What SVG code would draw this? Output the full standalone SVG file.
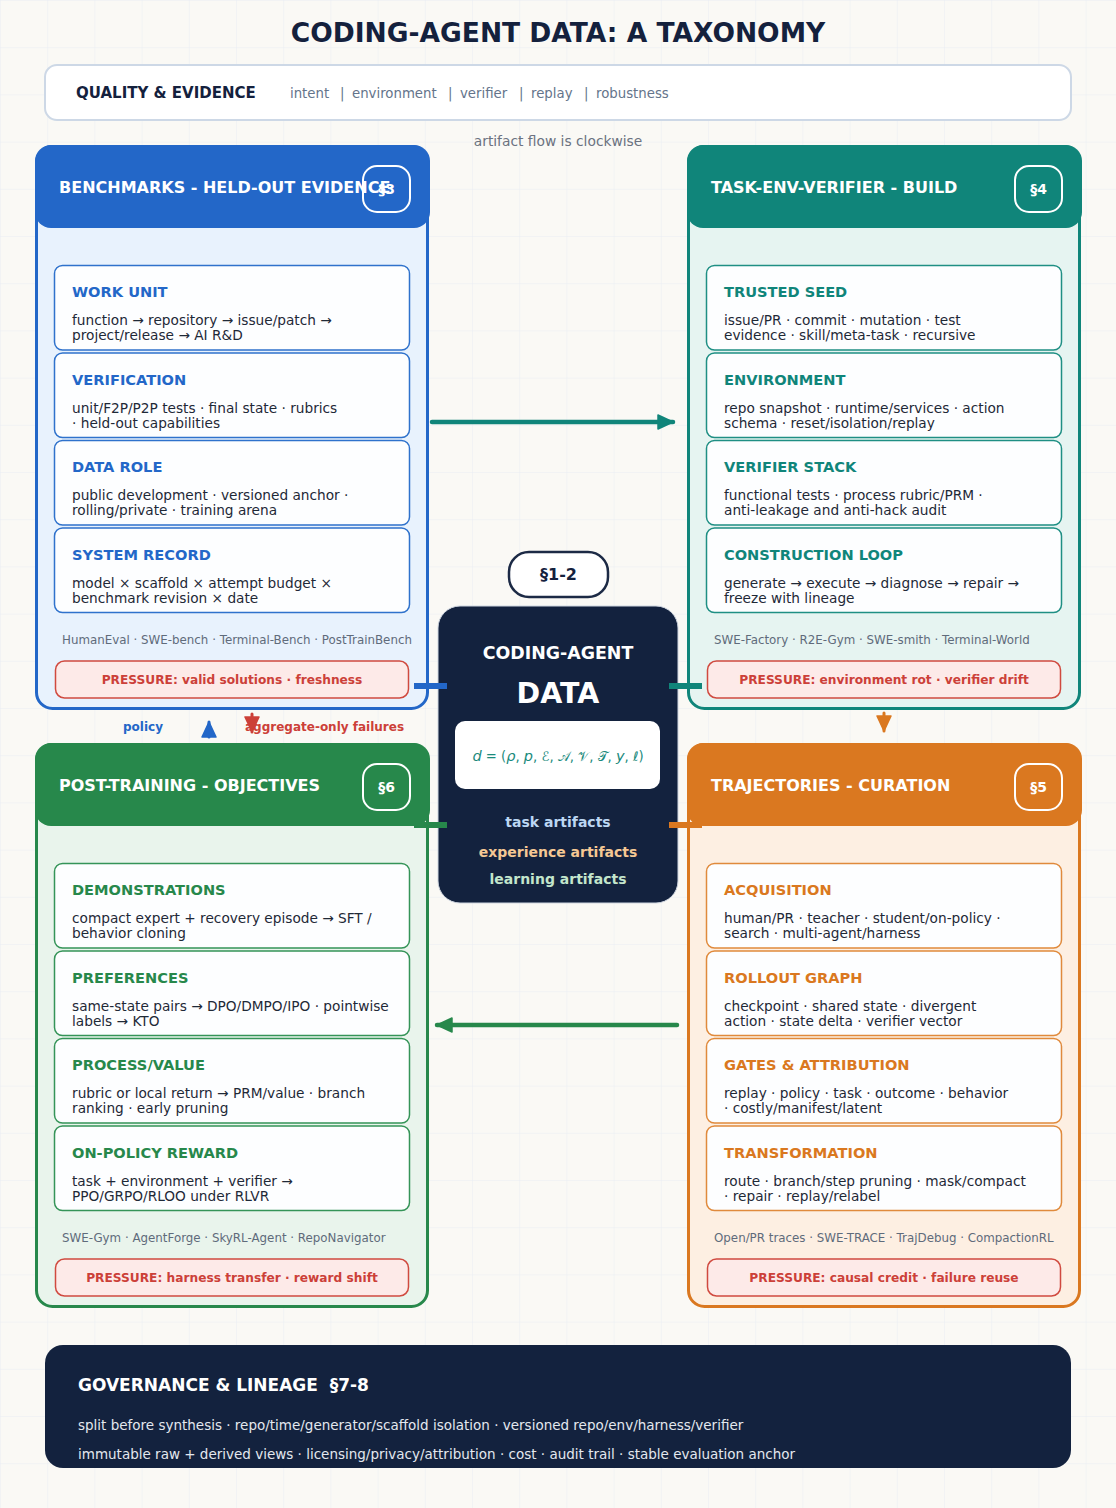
<svg xmlns="http://www.w3.org/2000/svg" width="1116" height="1508" viewBox="0 0 1116 1508">
<defs>
<pattern id="grid" width="47.2" height="47.2" patternUnits="userSpaceOnUse">
<path d="M47.2 0 L0 0 0 47.2" fill="none" stroke="#e9edf3" stroke-width="1"/>
</pattern>
<marker id="mTeal" markerUnits="userSpaceOnUse" markerWidth="20" markerHeight="20" viewBox="0 0 20 20" refX="16" refY="8" orient="auto"><path d="M1 1 L16 8 L1 15 Z" fill="#10857a" stroke="#10857a" stroke-width="1.5" stroke-linejoin="round"/></marker>
<marker id="mGreen" markerUnits="userSpaceOnUse" markerWidth="20" markerHeight="20" viewBox="0 0 20 20" refX="16" refY="8" orient="auto"><path d="M1 1 L16 8 L1 15 Z" fill="#27884b" stroke="#27884b" stroke-width="1.5" stroke-linejoin="round"/></marker>
<marker id="mOrange" markerUnits="userSpaceOnUse" markerWidth="20" markerHeight="20" viewBox="0 0 20 20" refX="16" refY="8" orient="auto"><path d="M1 1 L16 8 L1 15 Z" fill="#da7820" stroke="#da7820" stroke-width="1.5" stroke-linejoin="round"/></marker>
<marker id="mBlue" markerUnits="userSpaceOnUse" markerWidth="20" markerHeight="20" viewBox="0 0 20 20" refX="16" refY="8" orient="auto"><path d="M1 1 L16 8 L1 15 Z" fill="#2367c8" stroke="#2367c8" stroke-width="1.5" stroke-linejoin="round"/></marker>
<marker id="mRed" markerUnits="userSpaceOnUse" markerWidth="20" markerHeight="20" viewBox="0 0 20 20" refX="16" refY="8" orient="auto"><path d="M1 1 L16 8 L1 15 Z" fill="#cc4038" stroke="#cc4038" stroke-width="1.5" stroke-linejoin="round"/></marker>
</defs>
<style>
text{font-family:"DejaVu Sans","Liberation Sans",sans-serif}
.b{font-weight:bold}
.title{font-size:26.5px;font-weight:bold;fill:#14213d}
.hdr{font-size:16px;font-weight:bold;fill:#ffffff}
.badge{fill:none;stroke:#ffffff;stroke-width:2}
.badgeT{font-size:14px;font-weight:bold;fill:#ffffff;text-anchor:middle}
.card{fill:#fdfeff;stroke-width:1.5}
.ct{font-size:14.6px;font-weight:bold}
.cb{font-size:13.7px;fill:#1f2937}
.refs{font-size:11.85px;fill:#5f6b7b}
.pbox{fill:#fdeae8;stroke:#d04a3f;stroke-width:1.5}
.ptxt{font-size:12.2px;font-weight:bold;fill:#cc4038;text-anchor:middle}
.conn{fill:none;stroke-linecap:round}
.stub{fill:none;stroke-width:6}
</style>
<rect x="0" y="0" width="1116" height="1508" fill="#faf9f5"/>
<rect x="0" y="0" width="1116" height="1508" fill="url(#grid)"/>

<text class="title" x="558" y="42" text-anchor="middle">CODING-AGENT DATA: A TAXONOMY</text>

<g id="quality">
<rect x="45" y="65" width="1026" height="55" rx="12" fill="#ffffff" stroke="#cdd8e6" stroke-width="2"/>
<text x="76" y="98" font-size="15" class="b" fill="#14213d">QUALITY &amp; EVIDENCE</text>
<text y="97.5" font-size="13.3" fill="#64748b"><tspan x="290">intent</tspan><tspan x="340">|</tspan><tspan x="352">environment</tspan><tspan x="448">|</tspan><tspan x="460">verifier</tspan><tspan x="519">|</tspan><tspan x="531">replay</tspan><tspan x="584">|</tspan><tspan x="596">robustness</tspan></text>
</g>
<text x="558" y="146" font-size="13.8" fill="#6b7280" text-anchor="middle">artifact flow is clockwise</text>

<!-- Benchmarks panel -->
<g id="benchmarks">
<rect x="36.5" y="146.5" width="391" height="562" rx="16" fill="#e8f2fd" stroke="#2367c8" stroke-width="3"/>
<rect x="35" y="145" width="395" height="83" rx="16" fill="#2367c8"/>
<text class="hdr" x="59" y="192.5">BENCHMARKS - HELD-OUT EVIDENCE</text>
<rect class="badge" x="363" y="166" width="47" height="46" rx="14"/>
<text class="badgeT" x="386.5" y="194">§3</text>
<rect class="card" x="54.5" y="265.5" width="355" height="84.5" rx="8" stroke="#2f72cc"/>
<text class="ct" x="72" y="297" fill="#2367c8">WORK UNIT</text>
<text class="cb" x="72" y="325">function → repository → issue/patch →</text>
<text class="cb" x="72" y="340">project/release → AI R&amp;D</text>
<rect class="card" x="54.5" y="353" width="355" height="84.5" rx="8" stroke="#2f72cc"/>
<text class="ct" x="72" y="384.5" fill="#2367c8">VERIFICATION</text>
<text class="cb" x="72" y="412.5">unit/F2P/P2P tests · final state · rubrics</text>
<text class="cb" x="72" y="427.5">· held-out capabilities</text>
<rect class="card" x="54.5" y="440.5" width="355" height="84.5" rx="8" stroke="#2f72cc"/>
<text class="ct" x="72" y="472" fill="#2367c8">DATA ROLE</text>
<text class="cb" x="72" y="500">public development · versioned anchor ·</text>
<text class="cb" x="72" y="515">rolling/private · training arena</text>
<rect class="card" x="54.5" y="528" width="355" height="84.5" rx="8" stroke="#2f72cc"/>
<text class="ct" x="72" y="559.5" fill="#2367c8">SYSTEM RECORD</text>
<text class="cb" x="72" y="587.5">model × scaffold × attempt budget ×</text>
<text class="cb" x="72" y="602.5">benchmark revision × date</text>
<text class="refs" x="62" y="644">HumanEval · SWE-bench · Terminal-Bench · PostTrainBench</text>
<rect class="pbox" x="55.5" y="661" width="353" height="37" rx="9"/>
<text class="ptxt" x="232" y="683.5">PRESSURE: valid solutions · freshness</text>
</g>

<!-- Build panel -->
<g id="build">
<rect x="688.5" y="146.5" width="391" height="562" rx="16" fill="#e6f4f1" stroke="#10857a" stroke-width="3"/>
<rect x="687" y="145" width="395" height="83" rx="16" fill="#10857a"/>
<text class="hdr" x="711" y="192.5">TASK-ENV-VERIFIER - BUILD</text>
<rect class="badge" x="1015" y="166" width="47" height="46" rx="14"/>
<text class="badgeT" x="1038.5" y="194">§4</text>
<rect class="card" x="706.5" y="265.5" width="355" height="84.5" rx="8" stroke="#1f8f84"/>
<text class="ct" x="724" y="297" fill="#10857a">TRUSTED SEED</text>
<text class="cb" x="724" y="325">issue/PR · commit · mutation · test</text>
<text class="cb" x="724" y="340">evidence · skill/meta-task · recursive</text>
<rect class="card" x="706.5" y="353" width="355" height="84.5" rx="8" stroke="#1f8f84"/>
<text class="ct" x="724" y="384.5" fill="#10857a">ENVIRONMENT</text>
<text class="cb" x="724" y="412.5">repo snapshot · runtime/services · action</text>
<text class="cb" x="724" y="427.5">schema · reset/isolation/replay</text>
<rect class="card" x="706.5" y="440.5" width="355" height="84.5" rx="8" stroke="#1f8f84"/>
<text class="ct" x="724" y="472" fill="#10857a">VERIFIER STACK</text>
<text class="cb" x="724" y="500">functional tests · process rubric/PRM ·</text>
<text class="cb" x="724" y="515">anti-leakage and anti-hack audit</text>
<rect class="card" x="706.5" y="528" width="355" height="84.5" rx="8" stroke="#1f8f84"/>
<text class="ct" x="724" y="559.5" fill="#10857a">CONSTRUCTION LOOP</text>
<text class="cb" x="724" y="587.5">generate → execute → diagnose → repair →</text>
<text class="cb" x="724" y="602.5">freeze with lineage</text>
<text class="refs" x="714" y="644">SWE-Factory · R2E-Gym · SWE-smith · Terminal-World</text>
<rect class="pbox" x="707.5" y="661" width="353" height="37" rx="9"/>
<text class="ptxt" x="884" y="683.5">PRESSURE: environment rot · verifier drift</text>
</g>

<!-- Post-training panel -->
<g id="posttraining">
<rect x="36.5" y="744.5" width="391" height="562" rx="16" fill="#e9f4ec" stroke="#27884b" stroke-width="3"/>
<rect x="35" y="743" width="395" height="83" rx="16" fill="#27884b"/>
<text class="hdr" x="59" y="790.5">POST-TRAINING - OBJECTIVES</text>
<rect class="badge" x="363" y="764" width="47" height="46" rx="14"/>
<text class="badgeT" x="386.5" y="792">§6</text>
<rect class="card" x="54.5" y="863.5" width="355" height="84.5" rx="8" stroke="#359458"/>
<text class="ct" x="72" y="895" fill="#27884b">DEMONSTRATIONS</text>
<text class="cb" x="72" y="923">compact expert + recovery episode → SFT /</text>
<text class="cb" x="72" y="938">behavior cloning</text>
<rect class="card" x="54.5" y="951" width="355" height="84.5" rx="8" stroke="#359458"/>
<text class="ct" x="72" y="982.5" fill="#27884b">PREFERENCES</text>
<text class="cb" x="72" y="1010.5">same-state pairs → DPO/DMPO/IPO · pointwise</text>
<text class="cb" x="72" y="1025.5">labels → KTO</text>
<rect class="card" x="54.5" y="1038.5" width="355" height="84.5" rx="8" stroke="#359458"/>
<text class="ct" x="72" y="1070" fill="#27884b">PROCESS/VALUE</text>
<text class="cb" x="72" y="1098">rubric or local return → PRM/value · branch</text>
<text class="cb" x="72" y="1113">ranking · early pruning</text>
<rect class="card" x="54.5" y="1126" width="355" height="84.5" rx="8" stroke="#359458"/>
<text class="ct" x="72" y="1157.5" fill="#27884b">ON-POLICY REWARD</text>
<text class="cb" x="72" y="1185.5">task + environment + verifier →</text>
<text class="cb" x="72" y="1200.5">PPO/GRPO/RLOO under RLVR</text>
<text class="refs" x="62" y="1242">SWE-Gym · AgentForge · SkyRL-Agent · RepoNavigator</text>
<rect class="pbox" x="55.5" y="1259" width="353" height="37" rx="9"/>
<text class="ptxt" x="232" y="1281.5">PRESSURE: harness transfer · reward shift</text>
</g>

<!-- Trajectories panel -->
<g id="trajectories">
<rect x="688.5" y="744.5" width="391" height="562" rx="16" fill="#fdefe2" stroke="#da7820" stroke-width="3"/>
<rect x="687" y="743" width="395" height="83" rx="16" fill="#da7820"/>
<text class="hdr" x="711" y="790.5">TRAJECTORIES - CURATION</text>
<rect class="badge" x="1015" y="764" width="47" height="46" rx="14"/>
<text class="badgeT" x="1038.5" y="792">§5</text>
<rect class="card" x="706.5" y="863.5" width="355" height="84.5" rx="8" stroke="#e08a3c"/>
<text class="ct" x="724" y="895" fill="#da7820">ACQUISITION</text>
<text class="cb" x="724" y="923">human/PR · teacher · student/on-policy ·</text>
<text class="cb" x="724" y="938">search · multi-agent/harness</text>
<rect class="card" x="706.5" y="951" width="355" height="84.5" rx="8" stroke="#e08a3c"/>
<text class="ct" x="724" y="982.5" fill="#da7820">ROLLOUT GRAPH</text>
<text class="cb" x="724" y="1010.5">checkpoint · shared state · divergent</text>
<text class="cb" x="724" y="1025.5">action · state delta · verifier vector</text>
<rect class="card" x="706.5" y="1038.5" width="355" height="84.5" rx="8" stroke="#e08a3c"/>
<text class="ct" x="724" y="1070" fill="#da7820">GATES &amp; ATTRIBUTION</text>
<text class="cb" x="724" y="1098">replay · policy · task · outcome · behavior</text>
<text class="cb" x="724" y="1113">· costly/manifest/latent</text>
<rect class="card" x="706.5" y="1126" width="355" height="84.5" rx="8" stroke="#e08a3c"/>
<text class="ct" x="724" y="1157.5" fill="#da7820">TRANSFORMATION</text>
<text class="cb" x="724" y="1185.5">route · branch/step pruning · mask/compact</text>
<text class="cb" x="724" y="1200.5">· repair · replay/relabel</text>
<text class="refs" x="714" y="1242">Open/PR traces · SWE-TRACE · TrajDebug · CompactionRL</text>
<rect class="pbox" x="707.5" y="1259" width="353" height="37" rx="9"/>
<text class="ptxt" x="884" y="1281.5">PRESSURE: causal credit · failure reuse</text>
</g>

<!-- Center -->
<g id="section12">
<rect x="509" y="552" width="99" height="45" rx="20" fill="#ffffff" stroke="#1c2a45" stroke-width="2.5"/>
<text x="558.5" y="580" font-size="16" class="b" fill="#14213d" text-anchor="middle">§1-2</text>
</g>
<g id="core">
<rect x="438" y="606" width="240" height="297" rx="22" fill="#13223e" stroke="#cfd6e0" stroke-width="1"/>
<text x="558" y="659" font-size="17.4" class="b" fill="#ffffff" text-anchor="middle">CODING-AGENT</text>
<text x="558" y="703" font-size="28.5" class="b" fill="#ffffff" text-anchor="middle">DATA</text>
<rect x="455" y="721" width="205" height="68" rx="10" fill="#ffffff"/>
<text x="558" y="761" font-size="13.2" fill="#1a8a7c" text-anchor="middle"><tspan font-style="italic" font-size="14.5">d</tspan> = (<tspan font-style="italic" font-size="14.5">ρ</tspan>, <tspan font-style="italic" font-size="14.5">p</tspan>, ℰ, 𝒜, 𝒱, 𝒯, <tspan font-style="italic" font-size="14.5">y</tspan>, ℓ)</text>
<text x="558" y="827" font-size="14" class="b" fill="#bcd7f3" text-anchor="middle">task artifacts</text>
<text x="558" y="857" font-size="14" class="b" fill="#f5c894" text-anchor="middle">experience artifacts</text>
<text x="558" y="884" font-size="14" class="b" fill="#c3e6cc" text-anchor="middle">learning artifacts</text>
</g>

<g id="connectors">
<line class="stub" x1="414" y1="686" x2="447" y2="686" stroke="#2367c8"/>
<line class="stub" x1="669" y1="686" x2="702" y2="686" stroke="#10857a"/>
<line class="stub" x1="414" y1="825" x2="447" y2="825" stroke="#27884b"/>
<line class="stub" x1="669" y1="825" x2="702" y2="825" stroke="#da7820"/>
<path class="conn" d="M432 422 L673 422" stroke="#10857a" stroke-width="4.5" marker-end="url(#mTeal)"/>
<path class="conn" d="M677 1025 L437 1025" stroke="#27884b" stroke-width="4.5" marker-end="url(#mGreen)"/>
<path class="conn" d="M884 713 L884 731" stroke="#da7820" stroke-width="3" marker-end="url(#mOrange)"/>
<path class="conn" d="M209 737 L209 722" stroke="#2367c8" stroke-width="3" marker-end="url(#mBlue)"/>
<path class="conn" d="M252 714 L252 732" stroke="#cc4038" stroke-width="3" marker-end="url(#mRed)"/>
</g>
<text x="143" y="731" font-size="12" class="b" fill="#2367c8" text-anchor="middle">policy</text>
<text x="245" y="731" font-size="12" class="b" fill="#cc4038">aggregate-only failures</text>

<g id="governance">
<rect x="45" y="1345" width="1026" height="123" rx="18" fill="#13223e"/>
<text x="78" y="1391" font-size="17" class="b" fill="#ffffff" xml:space="preserve">GOVERNANCE &amp; LINEAGE  §7-8</text>
<text x="78" y="1430" font-size="13.5" fill="#e3e8ef">split before synthesis · repo/time/generator/scaffold isolation · versioned repo/env/harness/verifier</text>
<text x="78" y="1459" font-size="13.5" fill="#e3e8ef">immutable raw + derived views · licensing/privacy/attribution · cost · audit trail · stable evaluation anchor</text>
</g>
</svg>
